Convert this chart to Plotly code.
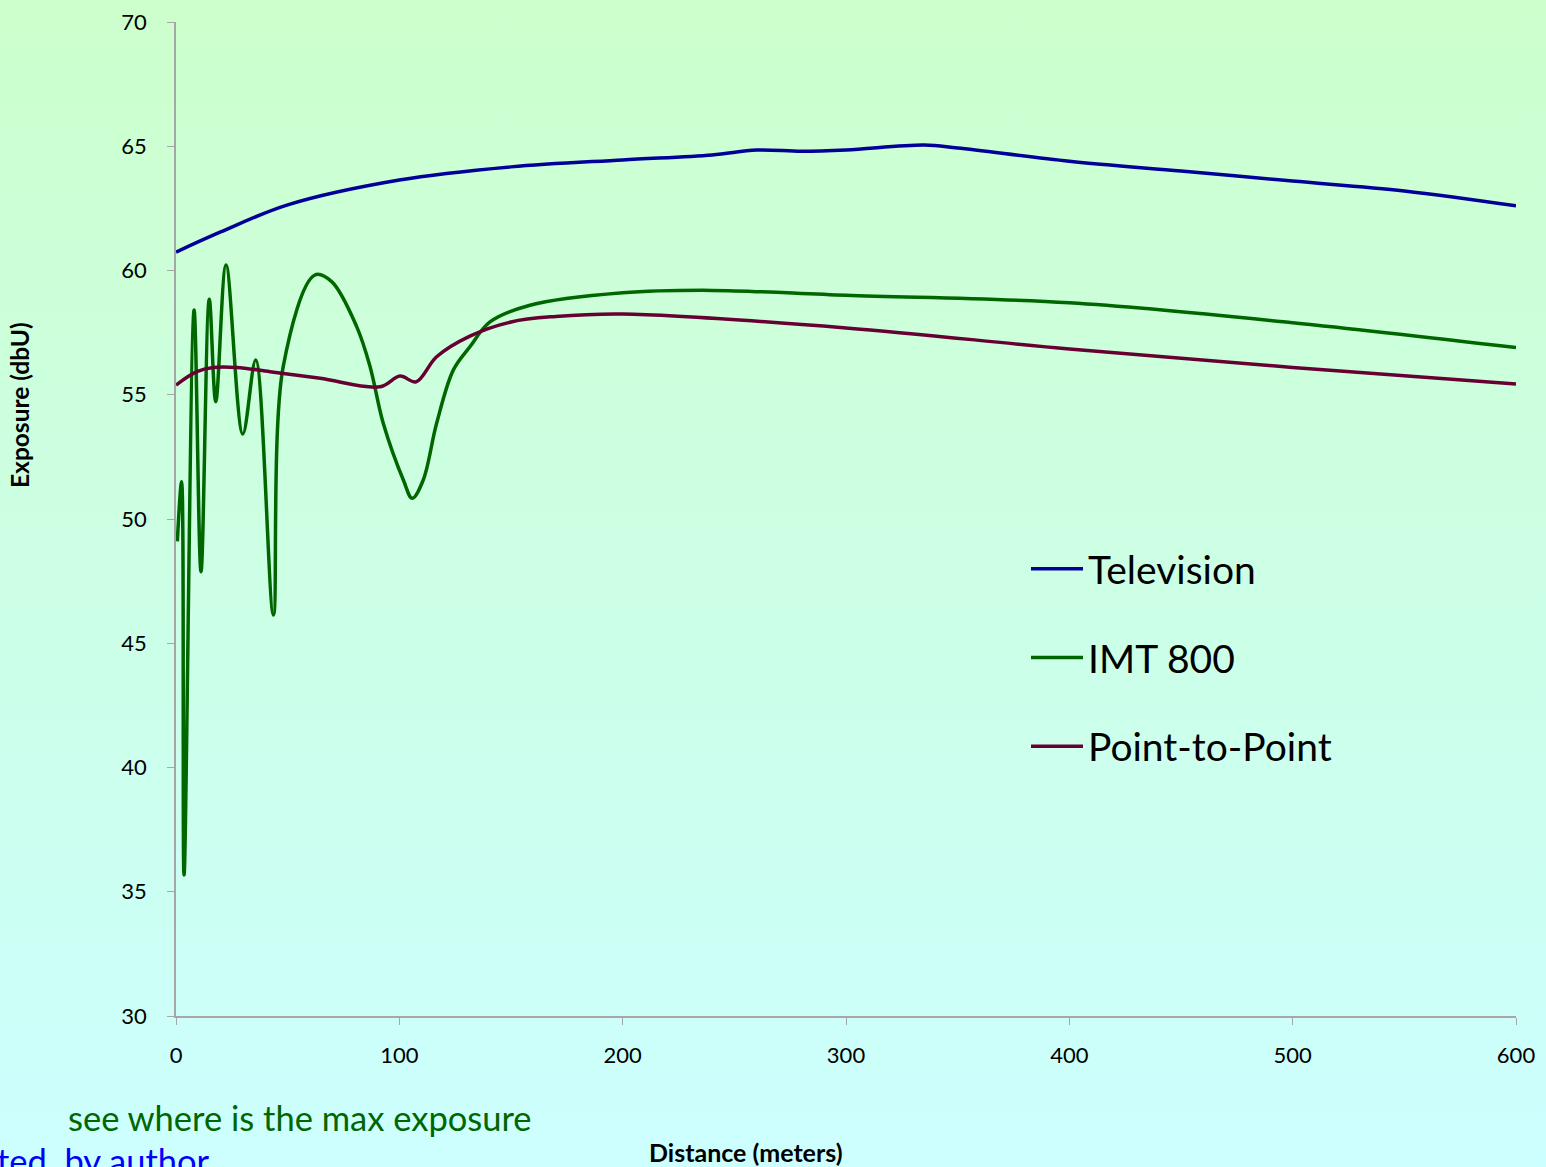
import plotly.graph_objects as go

# distance (m) / exposure (dbU)
tv_dist = [0, 20, 50, 100, 150, 200, 240, 260, 280, 300, 335, 350, 400, 450, 500, 550, 600]
tv_exp = [60.74, 61.55, 62.64, 63.64, 64.17, 64.45, 64.65, 64.85, 64.8, 64.85, 65.05, 64.93,
          64.4, 64.0, 63.6, 63.2, 62.6]

imt_dist = [0.6, 2.5, 3.6, 8.1, 11.2, 14.9, 17.8, 22.4, 29.9, 35.7, 43.6, 48, 62.2, 69.7,
            80.9, 86.9, 92.8, 101.8, 105.8, 110.7, 116.7, 124.2, 131.6, 140.6, 158.5,
            200, 240, 300, 400, 500, 600]
imt_exp = [49.1, 51.5, 35.67, 58.41, 47.88, 58.84, 54.72, 60.22, 53.42, 56.4, 46.14, 56.13,
           59.82, 59.55, 57.74, 56.13, 53.85, 51.57, 50.83, 51.57, 53.85, 56.0, 56.93, 57.93,
           58.6, 59.1, 59.2, 59.0, 58.7, 57.9, 56.9]

p2p_dist = [0, 9.3, 16.7, 27.2, 42.1, 64.5, 91.3, 100.3, 107.5, 116.7, 131.6, 150, 170,
            200, 300, 400, 500, 600]
p2p_exp = [55.39, 55.93, 56.1, 56.1, 55.93, 55.66, 55.32, 55.75, 55.52, 56.53, 57.36, 57.93,
           58.15, 58.25, 57.69, 56.84, 56.1, 55.43]

x_ticks = [0, 100, 200, 300, 400, 500, 600]
y_ticks = [30, 35, 40, 45, 50, 55, 60, 65, 70]

font = "Lato, 'Open Sans', sans-serif"

fig = go.Figure()

fig.add_trace(go.Scatter(x=tv_dist, y=tv_exp, mode="lines", name="Television",
                         legendgroup="a", line=dict(color="#000099", width=3.5, shape="spline")))
fig.add_trace(go.Scatter(x=imt_dist, y=imt_exp, mode="lines", name="IMT 800",
                         legendgroup="b", line=dict(color="#006600", width=3.5, shape="spline")))
fig.add_trace(go.Scatter(x=p2p_dist, y=p2p_exp, mode="lines", name="Point-to-Point",
                         legendgroup="c", line=dict(color="#660033", width=3.5, shape="spline")))

# gradient background (light green -> light cyan)
grad_svg = (
    "data:image/svg+xml;utf8,"
    "<svg xmlns='http://www.w3.org/2000/svg' width='100' height='100' preserveAspectRatio='none'>"
    "<defs><linearGradient id='g' x1='0' y1='0' x2='0' y2='1'>"
    "<stop offset='0' stop-color='%23CCFFCC'/><stop offset='1' stop-color='%23CCFFFF'/>"
    "</linearGradient></defs><rect width='100' height='100' fill='url(%23g)'/></svg>"
)

W, H = 1546, 1167
L, R, T, B = 176, 30, 22, 151
pw, ph = W - L - R, H - T - B


def px(x):
    return (x - L) / pw


def py(y):
    return 1 - (y - T) / ph


fig.add_layout_image(dict(
    source=grad_svg, xref="paper", yref="paper",
    x=px(0), y=py(0), sizex=W / pw, sizey=H / ph,
    sizing="stretch", xanchor="left", yanchor="top", layer="below",
))

fig.add_annotation(text="see where is the max exposure", xref="paper", yref="paper",
                   x=px(66), y=py(1117), xanchor="left", yanchor="middle",
                   showarrow=False, font=dict(family=font, size=34.5, color="#006600"))
fig.add_annotation(text="Created  by author", xref="paper", yref="paper",
                   x=px(212), y=py(1160), xanchor="right", yanchor="middle",
                   showarrow=False, font=dict(family=font, size=34.5, color="#0000FF"))
fig.add_annotation(text="<b>Distance (meters)</b>", xref="paper", yref="paper",
                   x=px(746), y=py(1152), xanchor="center", yanchor="middle",
                   showarrow=False, font=dict(family=font, size=25, color="black"))
fig.add_annotation(text="<b>Exposure (dbU)</b>", xref="paper", yref="paper",
                   x=px(19), y=py(405), xanchor="center", yanchor="middle", textangle=-90,
                   showarrow=False, font=dict(family=font, size=24.5, color="black"))

fig.update_layout(
    width=W,
    height=H,
    margin=dict(l=L, r=R, t=T, b=B, autoexpand=False),
    paper_bgcolor="#CCFFEE",
    plot_bgcolor="rgba(0,0,0,0)",
    font=dict(family=font, color="black"),
    legend=dict(x=px(1026), y=py(658), xanchor="left", yanchor="middle",
                font=dict(size=39, family=font), bgcolor="rgba(0,0,0,0)",
                itemwidth=52, tracegroupgap=35),
    showlegend=True,
)

fig.update_xaxes(
    range=[0, 600], tickvals=x_ticks, showgrid=False, zeroline=False, automargin=False,
    showline=True, linecolor="#A6A6A6", linewidth=1.5,
    ticks="outside", tickcolor="#A6A6A6", ticklen=7, tickfont=dict(size=22),
    ticklabelstandoff=12,
)
fig.update_yaxes(
    range=[30, 70], tickvals=y_ticks, showgrid=False, zeroline=False, automargin=False,
    showline=True, linecolor="#A6A6A6", linewidth=1.5,
    ticks="outside", tickcolor="#A6A6A6", ticklen=7, tickfont=dict(size=22),
    ticklabelstandoff=16,
)

fig.write_html(
    "out.html",
    config={"displayModeBar": False},
    post_script="document.body.style.margin='0';document.body.style.overflow='hidden';",
)
